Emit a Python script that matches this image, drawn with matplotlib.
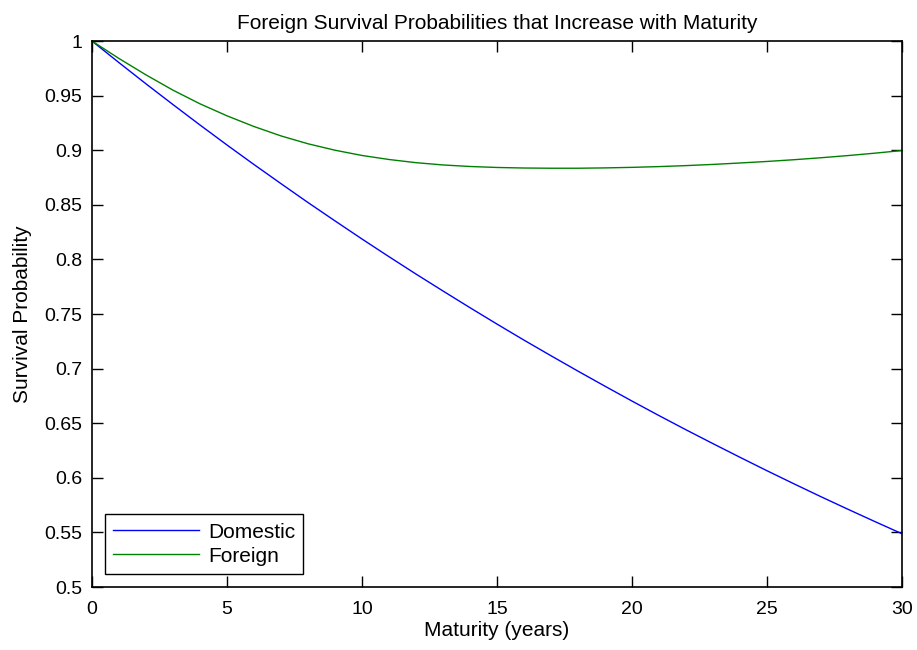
import numpy as np
import matplotlib.pyplot as plt

plt.rcParams['font.family'] = 'Liberation Sans'

maturity = np.arange(0, 31)
domestic = [1.0000, 0.9802, 0.9608, 0.9418, 0.9231, 0.9048, 0.8869, 0.8694, 0.8521, 0.8353,
            0.8187, 0.8025, 0.7866, 0.7711, 0.7558, 0.7408, 0.7261, 0.7118, 0.6977, 0.6839,
            0.6703, 0.6570, 0.6440, 0.6313, 0.6188, 0.6065, 0.5945, 0.5827, 0.5712, 0.5599, 0.5488]
foreign = [1.0000, 0.9840, 0.9690, 0.9550, 0.9425, 0.9315, 0.9217, 0.9131, 0.9059, 0.9000,
           0.8952, 0.8915, 0.8886, 0.8865, 0.8851, 0.8842, 0.8837, 0.8835, 0.8835, 0.8838,
           0.8843, 0.8850, 0.8859, 0.8870, 0.8883, 0.8897, 0.8913, 0.8931, 0.8951, 0.8973, 0.8997]
xticks = [0, 5, 10, 15, 20, 25, 30]
yticks = [0.5, 0.55, 0.6, 0.65, 0.7, 0.75, 0.8, 0.85, 0.9, 0.95, 1.0]
ytick_labels = ['0.5', '0.55', '0.6', '0.65', '0.7', '0.75', '0.8', '0.85', '0.9', '0.95', '1']

fig = plt.figure(figsize=(9.17, 6.5), dpi=100)
ax = fig.add_axes([0.1003, 0.0969, 0.8833, 0.84])

ax.plot(maturity, domestic, color='#0000ff', lw=1.0, label='Domestic')
ax.plot(maturity, foreign, color='#008000', lw=1.0, label='Foreign')

ax.set_xlim(0, 30)
ax.set_ylim(0.5, 1.0)
ax.set_xticks(xticks)
ax.set_yticks(yticks)
ax.set_yticklabels(ytick_labels)
ax.tick_params(direction='in', length=8, width=1, top=True, right=True, labelsize=14, pad=7)
ax.tick_params(axis='x', pad=10)
for s in ax.spines.values():
    s.set_linewidth(1.2)

ax.set_xlabel('Maturity (years)', fontsize=15, labelpad=2)
ax.set_ylabel('Survival Probability', fontsize=15, labelpad=9)
ax.set_title('Foreign Survival Probabilities that Increase with Maturity', fontsize=15, pad=9)

leg = ax.legend(loc='lower left', fontsize=15, fancybox=False, framealpha=1,
                edgecolor='black', borderaxespad=0.62, borderpad=0.4,
                handlelength=4.1, handletextpad=0.45, labelspacing=0.25)
leg.get_frame().set_linewidth(1.0)

fig.savefig('out.png', dpi=100)
